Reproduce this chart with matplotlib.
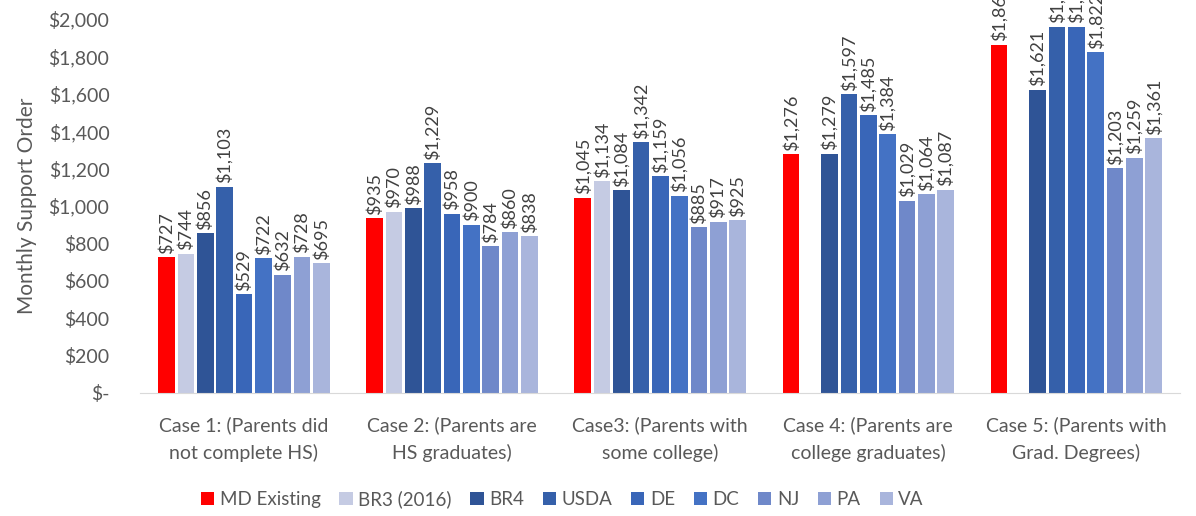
import numpy as np
import matplotlib.pyplot as plt

plt.rcParams['font.family'] = ['Lato', 'DejaVu Sans']

cases = ['Case 1: (Parents did\nnot complete HS)',
         'Case 2: (Parents are\nHS graduates)',
         'Case3: (Parents with\nsome college)',
         'Case 4: (Parents are\ncollege graduates)',
         'Case 5: (Parents with\nGrad. Degrees)']

series = ['MD Existing', 'BR3 (2016)', 'BR4', 'USDA', 'DE', 'DC', 'NJ', 'PA', 'VA']
colors = ['#ff0000', '#c5cbe3', '#2f5496', '#3560aa', '#3966b8', '#4472c4',
          '#6f88c9', '#8ea0d4', '#a9b5dc']

md_existing = [727, 935, 1045, 1276, 1862]
br3 = [744, 970, 1134, np.nan, np.nan]
br4 = [856, 988, 1084, 1279, 1621]
usda = [1103, 1229, 1342, 1597, 1958]
de = [529, 958, 1159, 1485, 1958]
dc = [722, 900, 1056, 1384, 1822]
nj = [632, 784, 885, 1029, 1203]
pa = [728, 860, 917, 1064, 1259]
va = [695, 838, 925, 1087, 1361]

values = [md_existing, br3, br4, usda, de, dc, nj, pa, va]

fig = plt.figure(figsize=(11.96, 5.16), dpi=100)
ax = fig.add_axes([0.117, 0.2384, 0.870, 0.7248])

x = np.arange(len(cases))
slot = 0.093
width = 0.08
label_color = '#404040'
grey = '#595959'

for i, (name, vals, c) in enumerate(zip(series, values, colors)):
    pos = x + (i - 4) * slot
    ax.bar(pos, vals, width, color=c, label=name)
    for px, v in zip(pos, vals):
        if np.isnan(v):
            continue
        ax.text(px, v + 18, f'${v:,.0f}', rotation=90, ha='center', va='bottom',
                fontsize=13, color=label_color, clip_on=False)

ax.set_xlim(-0.5, len(cases) - 0.5)
ax.set_ylim(0, 2000)
ax.set_yticks(np.arange(0, 2001, 200))
ax.set_yticklabels(['$-'] + [f'${t:,}' for t in range(200, 2001, 200)])
ax.set_xticks(x)
ax.set_xticklabels(cases, linespacing=1.6)
ax.tick_params(axis='both', length=0, labelsize=14, colors=grey)
ax.tick_params(axis='x', pad=17)
ax.tick_params(axis='y', pad=22)
for s in ['top', 'right', 'left']:
    ax.spines[s].set_visible(False)
ax.spines['bottom'].set_color('#d9d9d9')
ax.set_ylabel('Monthly Support Order', fontsize=15, color=grey, labelpad=8)

ax.legend(loc='upper center', bbox_to_anchor=(0.406, -0.215), ncol=9, frameon=False,
          fontsize=13.5, handlelength=0.7, handleheight=0.7, handletextpad=0.3,
          columnspacing=1.0, labelcolor=grey)

fig.savefig('out.png', dpi=100)
